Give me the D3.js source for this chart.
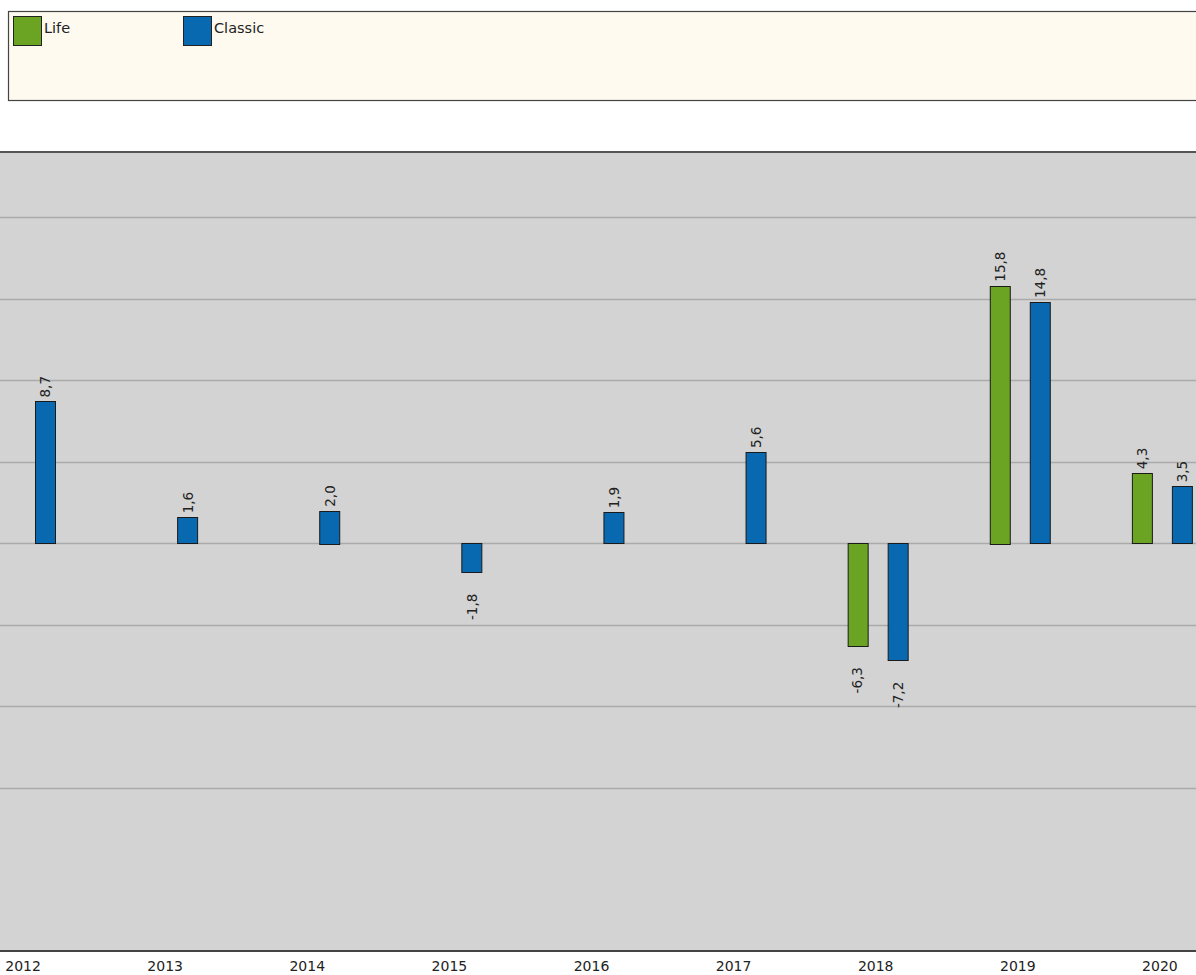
<!DOCTYPE html>
<html>
<head>
<meta charset="utf-8">
<script src="https://cdn.jsdelivr.net/npm/d3@7"></script>
<style>
  body { margin: 0; background: #fff; }
  svg { display: block; font-family: "DejaVu Sans", sans-serif; }
</style>
</head>
<body>
<script>
// data
var years = ["2012", "2013", "2014", "2015", "2016", "2017", "2018", "2019", "2020"];
var series = ["Life", "Classic"];
var lifeValues = [null, null, null, null, null, null, -6.3, 15.8, 4.3];
var classicValues = [8.7, 1.6, 2.0, -1.8, 1.9, 5.6, -7.2, 14.8, 3.5];
var gridTicks = [20, 15, 10, 5, 0, -5, -10, -15];
var colors = {Life: "#6ba323", Classic: "#0868b0"};

var width = 1196, height = 975;
var plotTop = 152, plotBottom = 951;

var svg = d3.select("body").append("svg")
  .attr("width", width)
  .attr("height", height);

// legend box
var legend = svg.append("g");
legend.append("rect")
  .attr("x", 8.5).attr("y", 11.5)
  .attr("width", 1200).attr("height", 89)
  .attr("fill", "#fffaf0")
  .attr("stroke", "#444")
  .attr("stroke-width", 1.2);

var legendX = {Life: 13, Classic: 183};
series.forEach(function(s) {
  legend.append("rect")
    .attr("x", legendX[s] + 0.5).attr("y", 16.5)
    .attr("width", 28).attr("height", 29)
    .attr("fill", colors[s])
    .attr("stroke", "#222");
  legend.append("text")
    .attr("x", legendX[s] + 31).attr("y", 33)
    .attr("font-size", 14.5)
    .attr("fill", "#222")
    .text(s);
});

// scales
var x0 = d3.scaleBand().domain(years).range([-46, 1233]).padding(0);
var x1 = d3.scaleBand().domain(series)
  .range([x0.bandwidth() / 2 - 30.5, x0.bandwidth() / 2 + 30.5])
  .paddingInner(0.5).paddingOuter(0);
var y = d3.scaleLinear().domain([-25, 24]).range([plotBottom, plotTop]);

// plot background
svg.append("rect")
  .attr("x", 0).attr("y", plotTop)
  .attr("width", width).attr("height", plotBottom - plotTop)
  .attr("fill", "#d3d3d3");

// grid
svg.append("g").selectAll("line")
  .data(gridTicks)
  .enter().append("line")
  .attr("x1", 0).attr("x2", width)
  .attr("y1", function(d) { return Math.round(y(d)) + 0.5; })
  .attr("y2", function(d) { return Math.round(y(d)) + 0.5; })
  .attr("stroke", "#aaaaaa")
  .attr("stroke-width", 1.5);

// top border
svg.append("line")
  .attr("x1", 0).attr("x2", width)
  .attr("y1", plotTop).attr("y2", plotTop)
  .attr("stroke", "#555").attr("stroke-width", 2);

// bars
var rows = years.map(function(yr, i) {
  return {year: yr, values: [
    {key: "Life", value: lifeValues[i]},
    {key: "Classic", value: classicValues[i]}
  ].filter(function(v) { return v.value !== null; })};
});

var groups = svg.append("g").selectAll("g")
  .data(rows)
  .enter().append("g")
  .attr("transform", function(d) { return "translate(" + x0(d.year) + ",0)"; });

groups.selectAll("rect")
  .data(function(d) { return d.values; })
  .enter().append("rect")
  .attr("x", function(d) { return Math.round(x1(d.key)) + 0.5; })
  .attr("width", 20)
  .attr("y", function(d) { return Math.round(y(Math.max(0, d.value))) + 0.5; })
  .attr("height", function(d) { return Math.round(Math.abs(y(d.value) - y(0))); })
  .attr("fill", function(d) { return colors[d.key]; })
  .attr("stroke", "#1a1a1a")
  .attr("stroke-width", 1);

// value labels (rotated)
groups.selectAll("text")
  .data(function(d) { return d.values; })
  .enter().append("text")
  .attr("transform", function(d) {
    var cx = x1(d.key) + 10.5;
    var cy = d.value >= 0 ? y(d.value) - 4 : y(d.value) + 21;
    return "translate(" + cx + "," + cy + ") rotate(-90)";
  })
  .attr("dy", "0.35em")
  .attr("text-anchor", function(d) { return d.value >= 0 ? "start" : "end"; })
  .attr("font-size", 13.5)
  .attr("fill", "#222")
  .text(function(d) { return d3.format(".1f")(d.value).replace(".", ",").replace("−", "-"); });

// x axis
svg.append("line")
  .attr("x1", 0).attr("x2", width)
  .attr("y1", plotBottom).attr("y2", plotBottom)
  .attr("stroke", "#444").attr("stroke-width", 2);

svg.append("g").selectAll("text")
  .data(years)
  .enter().append("text")
  .attr("x", function(d) { return x0(d) + x0.bandwidth() / 2 - 2; })
  .attr("y", 971)
  .attr("text-anchor", "middle")
  .attr("font-size", 14)
  .attr("fill", "#222")
  .text(function(d) { return d; });
</script>
</body>
</html>
